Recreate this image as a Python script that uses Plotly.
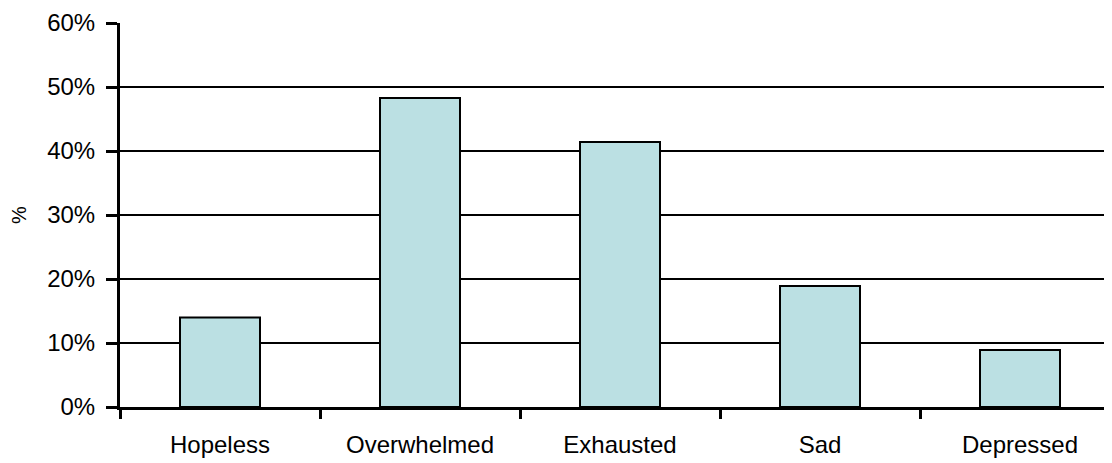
import plotly.graph_objects as go

categories = ["Hopeless", "Overwhelmed", "Exhausted", "Sad", "Depressed"]
values = [0.140, 0.483, 0.414, 0.189, 0.089]
y_ticks = [0, 0.1, 0.2, 0.3, 0.4, 0.5, 0.6]
y_tick_labels = ["0%", "10%", "20%", "30%", "40%", "50%", "60%"]

fig = go.Figure(go.Bar(
    x=categories, y=values, width=0.4,
    marker=dict(color="rgb(187,224,227)", line=dict(color="black", width=2)),
))

font = dict(family="Liberation Sans, Arial, sans-serif", size=24, color="black")
L = 112
plot_w = 1104 - L
fig.update_layout(
    width=1104, height=455,
    margin=dict(l=L, r=0, t=15, b=56),
    paper_bgcolor="white", plot_bgcolor="white",
    showlegend=False,
    font=font,
    xaxis=dict(
        range=[-0.5, 4.46], tickson="boundaries", ticks="outside", ticklen=9,
        tickwidth=3, tickcolor="black", showline=True, linecolor="black", linewidth=3,
        showgrid=False, tickfont=font, automargin=False, ticklabelstandoff=14,
    ),
    yaxis=dict(
        range=[0, 0.6], tickvals=y_ticks, ticktext=y_tick_labels,
        ticks="outside", ticklen=11, tickwidth=3, tickcolor="black",
        showline=True, linecolor="black", linewidth=3,
        showgrid=True, gridcolor="black", gridwidth=2, zeroline=False,
        tickfont=font, automargin=False, ticklabelstandoff=6,
    ),
    annotations=[dict(
        text="%", textangle=-90, showarrow=False,
        xref="paper", yref="paper", x=(11 - L) / plot_w, y=0.5,
        xanchor="center", yanchor="middle",
        font=dict(family="Liberation Sans, Arial, sans-serif", size=20, color="black"),
    )],
)
fig.write_html("out.html")
